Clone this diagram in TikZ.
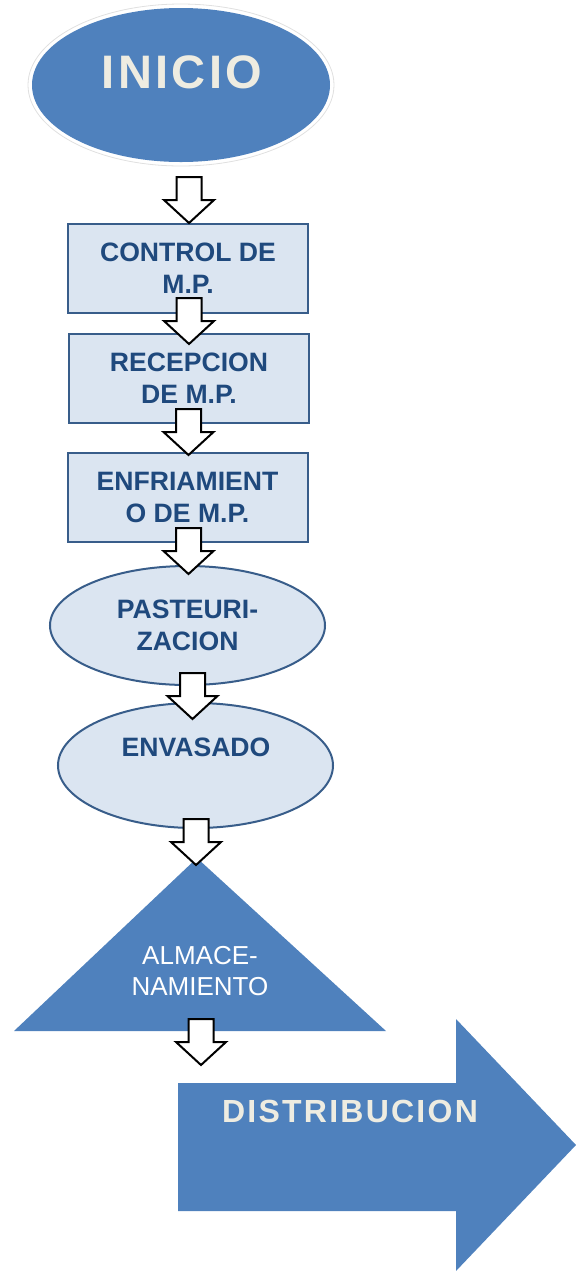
\documentclass[tikz,border=0pt]{standalone}
\usepackage{fontspec}
\setmainfont{Liberation Sans}
\usetikzlibrary{shapes.geometric}
\definecolor{azul}{HTML}{4F81BD}
\definecolor{celeste}{HTML}{DBE5F1}
\definecolor{borde}{HTML}{385D8A}
\definecolor{tinta}{HTML}{1F497D}
\definecolor{crema}{HTML}{EEECE1}
\tikzset{
  paso/.style={draw=borde, line width=1pt, fill=celeste, minimum width=120pt, minimum height=44.5pt, inner sep=0pt,
    font=\bfseries\fontsize{13.3}{16}\selectfont, text=tinta, align=center},
  proceso/.style={ellipse, draw=borde, line width=1pt, fill=celeste, minimum width=137.5pt, inner sep=0pt,
    font=\bfseries\fontsize{13.3}{16}\selectfont, text=tinta, align=center},
  titulo/.style={font=\bfseries\fontsize{23.5}{23.5}\selectfont\addfontfeatures{LetterSpace=7}, text=crema},
  flecha/.pic={\draw[black, line width=1pt, fill=white, line join=miter]
    (-12.5,0) -- (12.5,0) -- (12.5,23) -- (25,23) -- (0,46) -- (-25,23) -- (-12.5,23) -- cycle;}
}
\begin{document}
\begin{tikzpicture}[x=0.5pt,y=-0.5pt]
  \useasboundingbox (0,0) rectangle (576,1271);
  % inicio
  \node[ellipse, draw=black!12, fill=white, minimum width=153pt, minimum height=81pt] (halo) at (181,85) {};
  \node[ellipse, fill=azul, minimum width=149pt, minimum height=77pt] (inicio) at (181,85) {};
  \node[titulo] (t-inicio) at (182,72) {INICIO};
  % pasos
  \node[paso] (control) at (188,268.5) {CONTROL DE\\M.P.};
  \node[paso] (recepcion) at (189,378) {RECEPCION\\DE M.P.};
  \node[paso] (enfriamiento) at (187.5,497.5) {ENFRIAMIENT\\O DE M.P.};
  \node[proceso, minimum height=59.5pt] (pasteurizacion) at (187.5,625.5) {PASTEURI-\\ZACION};
  \node[proceso, minimum height=62.5pt] (envasado) at (195.5,765.5) {};
  \node[font=\bfseries\fontsize{13.3}{16}\selectfont, text=tinta] (t-envasado) at (196,747) {ENVASADO};
  % almacenamiento
  \coordinate (alm-izq) at (14,1031);
  \coordinate (alm-top) at (197,858);
  \coordinate (alm-der) at (386,1031);
  \fill[azul] (alm-izq) -- (alm-top) -- (alm-der) -- cycle;
  \begin{scope}
    \clip (0,0) rectangle (576,997);
    \node[font=\fontsize{13}{15.5}\selectfont, text=white, align=center] (t-alm) at (200,971) {ALMACE-\\NAMIENTO};
  \end{scope}
  % distribucion
  \fill[azul] (178,1083) -- (456,1083) -- (456,1019) -- (576,1145) -- (456,1271) -- (456,1211) -- (178,1211) -- cycle;
  \node[font=\bfseries\fontsize{16}{16}\selectfont\addfontfeatures{LetterSpace=7}, text=crema] (t-dist) at (350,1111) {DISTRIBUCION};
  % flechas
  \pic (f1) at (189,177) {flecha};
  \pic (f2) at (189,298) {flecha};
  \pic (f3) at (188.5,409) {flecha};
  \pic (f4) at (188.5,528) {flecha};
  \pic (f5) at (192.5,673) {flecha};
  \pic (f6) at (196,819) {flecha};
  \pic (f7) at (201,1019) {flecha};
\end{tikzpicture}
\end{document}
